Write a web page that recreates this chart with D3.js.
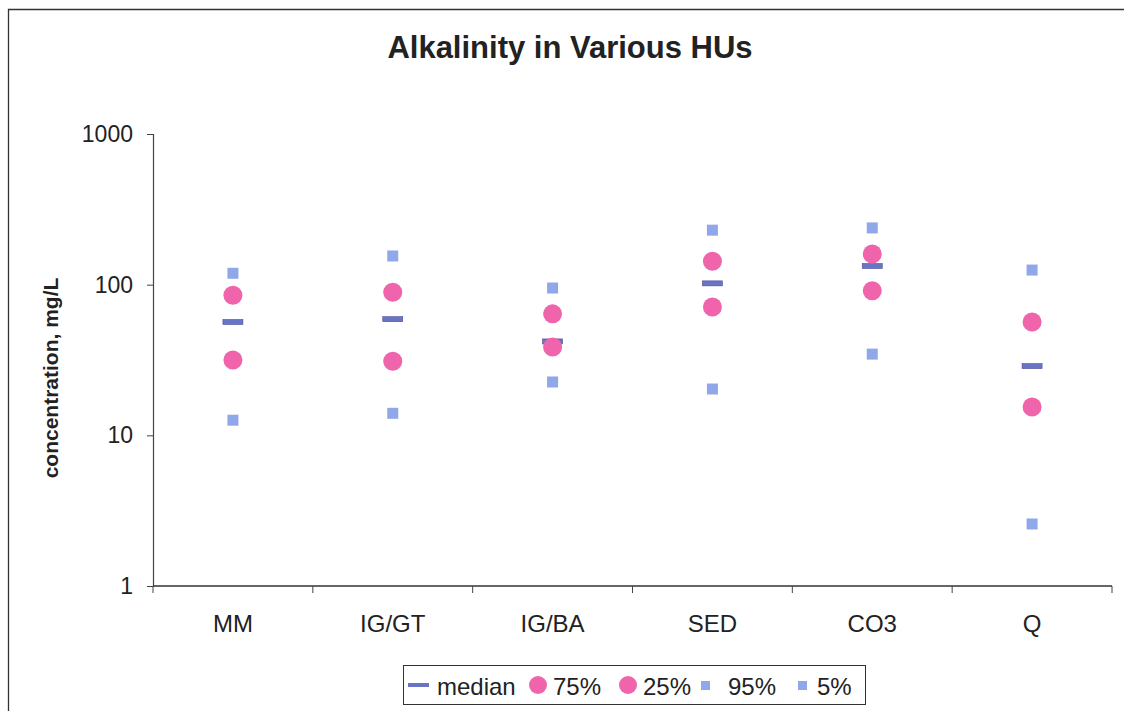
<!DOCTYPE html>
<html>
<head>
<meta charset="utf-8">
<script src="https://cdn.jsdelivr.net/npm/d3@7"></script>
<style>
  body { margin: 0; background: #fff; }
  text { font-family: Arial, "Liberation Sans", sans-serif; }
</style>
</head>
<body>
<svg id="chart" width="1124" height="711"></svg>
<script>
const categories = ["MM", "IG/GT", "IG/BA", "SED", "CO3", "Q"]
const median = [56.5, 59, 42, 102, 133, 28.8]
const p75 = [85, 89, 64, 143, 160, 56.5]
const p25 = [31.6, 31, 38.5, 71, 91, 15.4]
const p95 = [119, 155, 95, 230, 238, 125]
const p5 = [12.6, 14, 22.6, 20.3, 34.6, 2.58]
const yTicks = [1, 10, 100, 1000]

const svg = d3.select("#chart")
const plotLeft = 153, plotRight = 1112, plotTop = 134, plotBottom = 586

// scanned frame: only the top and left edges show
svg.append("path").attr("d", "M8.5,711V9.5H1124")
    .attr("fill", "none").attr("stroke", "#333").attr("stroke-width", 1.3)

svg.append("text").attr("x", 570).attr("y", 58).attr("text-anchor", "middle")
    .style("font-size", "31px").style("font-weight", "bold").attr("fill", "#222")
    .text("Alkalinity in Various HUs")

let x = d3.scaleBand().domain(categories).range([plotLeft, plotRight])
let y = d3.scaleLog().domain([1, 1000]).range([plotBottom, plotTop])

// y axis
let yAxis = svg.append("g").attr("transform", "translate(" + plotLeft + ",0)")
    .call(d3.axisLeft(y).tickValues(yTicks).tickFormat(d3.format("d")).tickSize(6).tickPadding(14))
yAxis.select(".domain").attr("stroke", "#444").attr("stroke-width", 1.2)
yAxis.selectAll(".tick line").attr("stroke", "#444")
yAxis.selectAll("text").style("font-size", "23px").attr("fill", "#222")

// x axis, ticks at the category boundaries
let xAxis = svg.append("g").attr("transform", "translate(0," + plotBottom + ")")
xAxis.append("line").attr("x1", plotLeft).attr("x2", plotRight).attr("stroke", "#333").attr("stroke-width", 1.5)
xAxis.selectAll(".bound").data(d3.range(categories.length + 1)).enter().append("line")
    .attr("x1", d => plotLeft + d * x.step()).attr("x2", d => plotLeft + d * x.step())
    .attr("y1", 0).attr("y2", 7).attr("stroke", "#444")
xAxis.selectAll(".lab").data(categories).enter().append("text")
    .attr("x", d => x(d) + x.bandwidth() / 2).attr("y", 46).attr("text-anchor", "middle")
    .style("font-size", "24px").attr("fill", "#222").text(d => d)

svg.append("text").attr("transform", "translate(58," + 378 + ") rotate(-90)")
    .attr("text-anchor", "middle").style("font-size", "21px").style("font-weight", "bold")
    .attr("fill", "#222").text("concentration, mg/L")

const pink = "#f064ac", blue = "#90a8ea", dash = "#6a74c4"
let cx = d => x(d) + x.bandwidth() / 2

function squares(vals) {
    svg.append("g").selectAll("rect").data(categories).enter().append("rect")
        .attr("x", (d, i) => cx(d) - 5.5).attr("y", (d, i) => y(vals[i]) - 5.5)
        .attr("width", 11).attr("height", 11).attr("fill", blue)
}
function circles(vals) {
    svg.append("g").selectAll("circle").data(categories).enter().append("circle")
        .attr("cx", d => cx(d)).attr("cy", (d, i) => y(vals[i])).attr("r", 9.5).attr("fill", pink)
}
squares(p95)
squares(p5)
svg.append("g").selectAll("rect").data(categories).enter().append("rect")
    .attr("x", d => cx(d) - 10).attr("y", (d, i) => y(median[i]) - 2.5)
    .attr("width", 20).attr("height", 5).attr("fill", dash).attr("stroke", "#4a4f9a").attr("stroke-width", 0.6)
circles(p75)
circles(p25)

// legend
let lg = svg.append("g").attr("transform", "translate(403,665)")
lg.append("rect").attr("x", 0.5).attr("y", 0.5).attr("width", 462).attr("height", 39)
    .attr("fill", "#fff").attr("stroke", "#333")
const items = [
    {label: "median", kind: "dash", x: 5, gap: 29},
    {label: "75%", kind: "circle", x: 126, gap: 24},
    {label: "25%", kind: "circle", x: 216, gap: 24},
    {label: "95%", kind: "square", x: 293, gap: 32},
    {label: "5%", kind: "square", x: 390, gap: 24}
]
items.forEach(it => {
    if (it.kind == "dash") {
        lg.append("rect").attr("x", it.x).attr("y", 18).attr("width", 21).attr("height", 4).attr("fill", dash)
    } else if (it.kind == "circle") {
        lg.append("circle").attr("cx", it.x + 9).attr("cy", 20).attr("r", 9).attr("fill", pink)
    } else {
        lg.append("rect").attr("x", it.x + 5).attr("y", 16).attr("width", 9).attr("height", 9).attr("fill", blue)
    }
    lg.append("text").attr("x", it.x + it.gap).attr("y", 30).style("font-size", "24px")
        .attr("fill", "#222").text(it.label)
})
</script>
</body>
</html>
